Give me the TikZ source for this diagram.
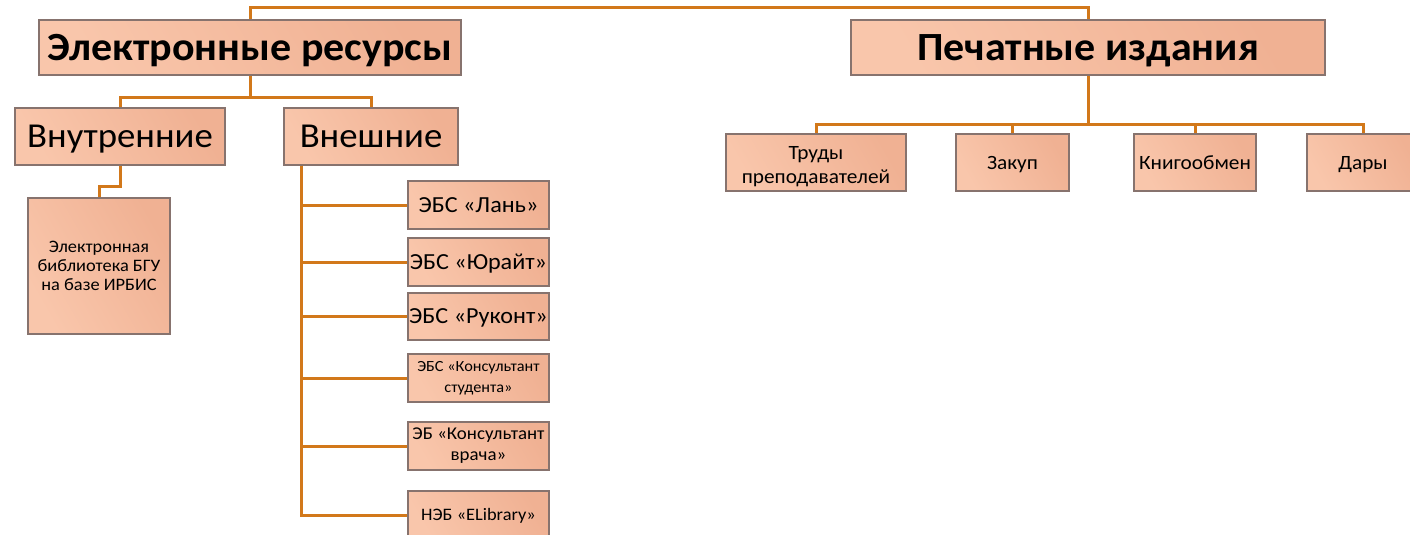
\documentclass[tikz,border=0pt]{standalone}
\usepackage{fontspec}
\setmainfont{Carlito}[FakeStretch=1.05]
\usetikzlibrary{shadows}
\definecolor{lineor}{RGB}{210,120,26}
\definecolor{boxA}{RGB}{249,198,171}
\definecolor{boxB}{RGB}{240,177,147}
\definecolor{boxline}{RGB}{135,115,110}
\tikzset{
  box/.style={draw=boxline, line width=1.5pt, left color=boxA, right color=boxB, shading angle=120,
    inner sep=1pt, align=center, text=black,
    drop shadow={shadow xshift=1.2pt, shadow yshift=-1.2pt, opacity=0.2, fill=black}},
  conn/.style={draw=lineor, line width=3pt},
  capc/.style={text height=#1, text depth=0pt}
}
\newcommand{\fs}[2]{\fontsize{#1}{#2}\selectfont}
\begin{document}
\begin{tikzpicture}[x=1pt,y=-1pt]
\useasboundingbox (0,0) rectangle (1410,535);
\coordinate (top) at (670,8);
\coordinate (erj) at (250,97);
\coordinate (vnj) at (110,186);
\coordinate (pij) at (1088,124);
% nodes
\node[box, minimum width=422, minimum height=55, font=\fs{40}{44}\bfseries, capc=26pt] (er) at (250,47.5) {Электронные ресурсы};
\node[box, minimum width=474, minimum height=55, font=\fs{40}{44}\bfseries, capc=26pt] (pi) at (1088,47.5) {Печатные издания};
\node[box, minimum width=210, minimum height=57, font=\fs{35}{40}, capc=22.5pt] (vn) at (120,136.5) {Внутренние};
\node[box, minimum width=174, minimum height=57, font=\fs{35}{40}, capc=22.5pt] (vs) at (371,136.5) {Внешние};
\node[box, minimum width=142, minimum height=136, font=\fs{17.5}{19}] (eb) at (99,266) {Электронная\\библиотека БГУ\\на базе ИРБИС};
\node[box, minimum width=141, minimum height=48, font=\fs{23}{26}, capc=14.8pt] (lan) at (478.5,205) {ЭБС «Лань»};
\node[box, minimum width=141, minimum height=48, font=\fs{23}{26}, capc=14.8pt] (yur) at (478.5,262) {ЭБС «Юрайт»};
\node[box, minimum width=141, minimum height=47, font=\fs{23}{26}, capc=14.8pt] (ruk) at (478.5,316.5) {ЭБС «Руконт»};
\node[box, minimum width=141, minimum height=48, font=\fs{15.5}{20.5}] (kst) at (478.5,378) {ЭБС «Консультант\\студента»};
\node[box, minimum width=141, minimum height=48, font=\fs{18}{21}] (kvr) at (478.5,446) {ЭБ «Консультант\\врача»};
\node[box, minimum width=141, minimum height=48, font=\fs{17.5}{21}, capc=11.3pt] (neb) at (478.5,515) {НЭБ «ELibrary»};
\node[box, minimum width=180, minimum height=57, font=\fs{20.3}{24}, text height=42pt, text depth=0.5pt] (tr) at (816,162.5) {Труды\\преподавателей};
\node[box, minimum width=113, minimum height=57, font=\fs{20.3}{25}, capc=13pt] (zak) at (1012.5,162.5) {Закуп};
\node[box, minimum width=122, minimum height=57, font=\fs{20.3}{25}, capc=13pt] (kn) at (1195,162.5) {Книгообмен};
\node[box, minimum width=112, minimum height=57, font=\fs{20.3}{25}, capc=13pt] (dar) at (1363,162.5) {Дары};
% connectors
\draw[conn] (er.north) |- (top) -| (pi.north);
\draw[conn] (er.south) -- (erj) -| (vn.north);
\draw[conn] (erj) -| (vs.north);
\draw[conn] (vn.south) |- (vnj) -| (eb.north);
\draw[conn] (vs.south west) ++(18,0) |- (lan.west);
\draw[conn] (vs.south west) ++(18,0) |- (yur.west);
\draw[conn] (vs.south west) ++(18,0) |- (ruk.west);
\draw[conn] (vs.south west) ++(18,0) |- (kst.west);
\draw[conn] (vs.south west) ++(18,0) |- (kvr.west);
\draw[conn] (vs.south west) ++(18,0) |- (neb.west);
\draw[conn] (pi.south) -- (pij);
\draw[conn] (tr.north) |- (pij);
\draw[conn] (zak.north) |- (pij);
\draw[conn] (kn.north) |- (pij);
\draw[conn] (dar.north) |- (pij);
\end{tikzpicture}
\end{document}
